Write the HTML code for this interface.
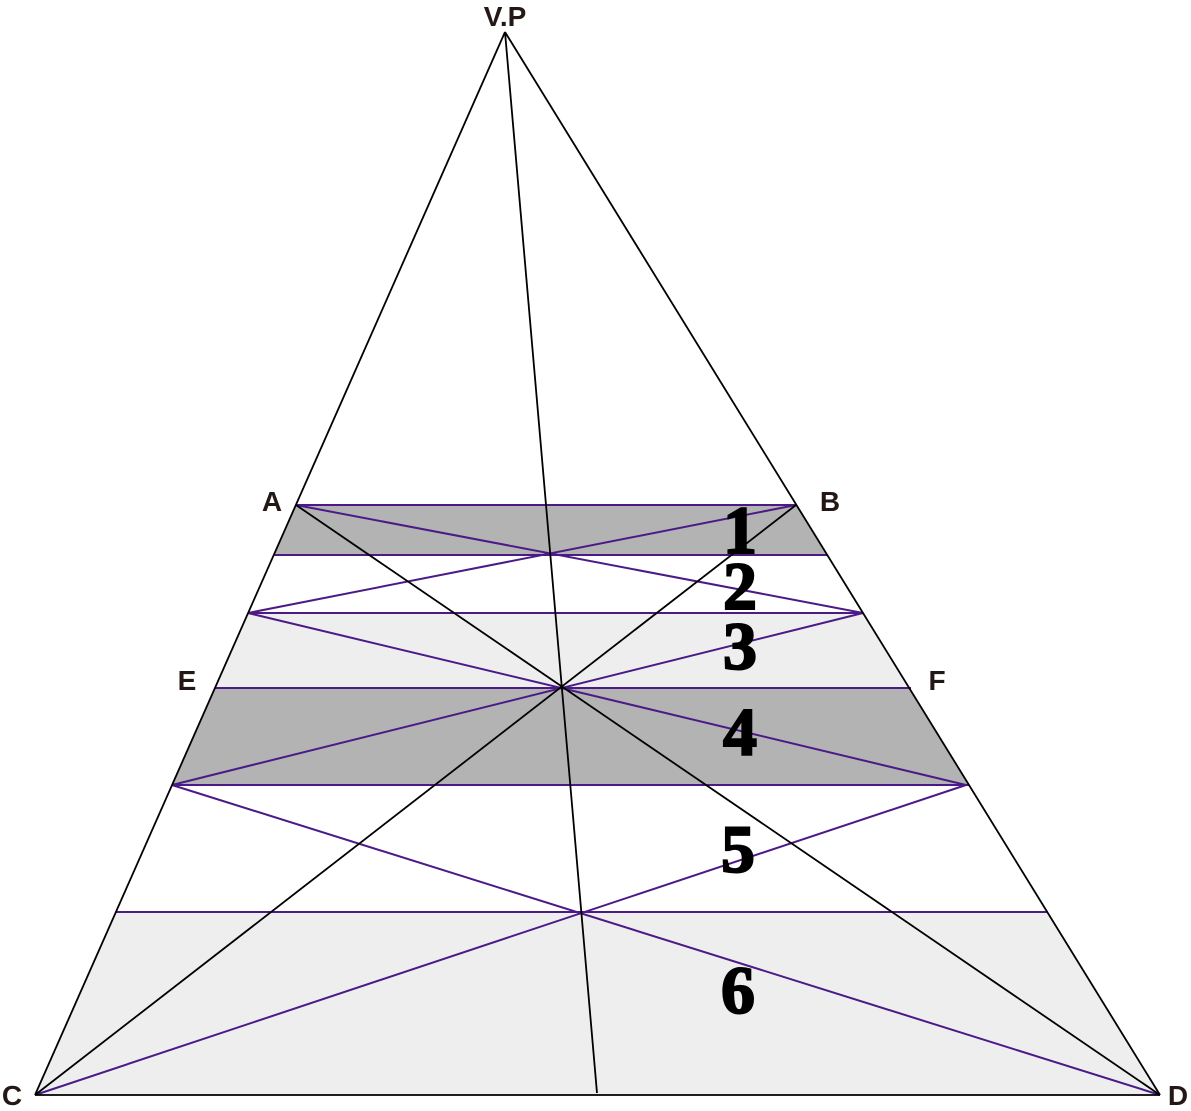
<!DOCTYPE html>
<html><head><meta charset="utf-8"><style>
html,body{margin:0;padding:0;background:#fff;}
svg{display:block;}
.lbl{font-family:"Liberation Sans",sans-serif;font-weight:bold;font-size:28px;fill:#231815;}
.num{font-family:"Liberation Serif",serif;font-weight:bold;font-size:68px;fill:#000;stroke:#000;stroke-width:2;}
</style></head><body>
<svg width="1191" height="1111" viewBox="0 0 1191 1111" xmlns="http://www.w3.org/2000/svg">
<polygon points="296,505 796,505 827,555 274,555" fill="#b3b3b3"/>
<polygon points="248,613 863,613 909,688 215,688" fill="#eeeeee"/>
<polygon points="215,688 909,688 969,785 172,785" fill="#b3b3b3"/>
<polygon points="116,912 1047,912 1160,1095 35,1095" fill="#eeeeee"/>
<g stroke="#4b1a87" stroke-width="2" fill="none">
<line x1="296" y1="505" x2="796" y2="505"/>
<line x1="274" y1="555" x2="827" y2="555"/>
<line x1="248" y1="613" x2="863" y2="613"/>
<line x1="215" y1="688" x2="911" y2="688"/>
<line x1="172" y1="785" x2="969" y2="785"/>
<line x1="116" y1="912" x2="1047" y2="912"/>
<line x1="296" y1="505" x2="863" y2="613"/>
<line x1="796" y1="505" x2="248" y2="613"/>
<line x1="248" y1="613" x2="966" y2="785"/>
<line x1="863" y1="613" x2="172" y2="785"/>
<line x1="172" y1="785" x2="1160" y2="1095"/>
<line x1="966" y1="785" x2="35" y2="1095"/>
</g>
<g stroke="#000" stroke-width="1.8" fill="none">
<line x1="505" y1="32" x2="35" y2="1095"/>
<line x1="505" y1="32" x2="1160" y2="1095"/>
<line x1="35" y1="1095" x2="1160" y2="1095"/>
<line x1="505" y1="32" x2="597" y2="1093"/>
<line x1="296" y1="505" x2="1160" y2="1095"/>
<line x1="796" y1="505" x2="35" y2="1095"/>
</g>
<text class="lbl" x="505" y="26" text-anchor="middle">V.P</text>
<text class="lbl" x="272" y="511" text-anchor="middle">A</text>
<text class="lbl" x="830" y="511" text-anchor="middle">B</text>
<text class="lbl" x="187" y="690" text-anchor="middle">E</text>
<text class="lbl" x="937" y="690" text-anchor="middle">F</text>
<text class="lbl" x="12" y="1105" text-anchor="middle">C</text>
<text class="lbl" x="1178" y="1105" text-anchor="middle">D</text>
<text class="num" x="740" y="553" text-anchor="middle">1</text>
<text class="num" x="740" y="609" text-anchor="middle">2</text>
<text class="num" x="740" y="669" text-anchor="middle">3</text>
<text class="num" x="740" y="755" text-anchor="middle">4</text>
<text class="num" x="738" y="872" text-anchor="middle">5</text>
<text class="num" x="738" y="1013" text-anchor="middle">6</text>
</svg>
</body></html>
